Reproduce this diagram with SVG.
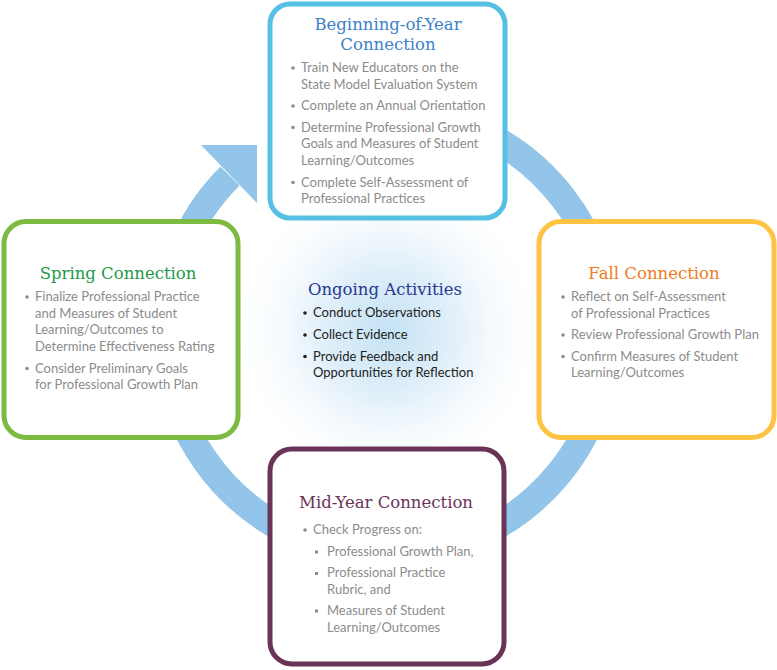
<svg xmlns="http://www.w3.org/2000/svg" width="777" height="670" viewBox="0 0 777 670">
<defs>
<radialGradient id="glow" cx="388" cy="330" r="160" gradientUnits="userSpaceOnUse">
<stop offset="0" stop-color="#c4e2f4"/>
<stop offset="0.45" stop-color="#e4f1fa"/>
<stop offset="1" stop-color="#ffffff" stop-opacity="0"/>
</radialGradient>
<style>
.box{fill:#ffffff;stroke-width:5}
.title{font-family:"DejaVu Serif","Liberation Serif",serif;font-size:16.5px;text-anchor:middle}
.body{font-family:Lato,"Liberation Sans",sans-serif;font-size:13px;fill:#8c8c8c}
.mid{font-family:Lato,"Liberation Sans",sans-serif;font-size:13px;fill:#222222}
.dot{fill:#8c8c8c}
.dotd{fill:#222222}
</style>
</defs>
<rect width="777" height="670" fill="#ffffff"/>
<circle cx="388" cy="330" r="160" fill="url(#glow)"/>
<g id="connectors">
<path d="M 387 111 A 222 222 0 1 1 230 176" fill="none" stroke="#92c5e9" stroke-width="27"/>
<polygon points="201,145 257,145 257,203" fill="#92c5e9"/>
</g>
<g id="center">
<text class="title" x="385" y="295" fill="#283891">Ongoing Activities</text>
<circle class="dotd" cx="305" cy="313" r="1.8"/>
<circle class="dotd" cx="305" cy="335" r="1.8"/>
<circle class="dotd" cx="305" cy="356.5" r="1.8"/>
<text class="mid" x="313" y="317.3">Conduct Observations</text>
<text class="mid" x="313" y="339">Collect Evidence</text>
<text class="mid" x="313" y="360.7">Provide Feedback and</text>
<text class="mid" x="313" y="377.3">Opportunities for Reflection</text>
</g>
<g id="beginning">
<rect class="box" x="270" y="4" width="235" height="214" rx="20" stroke="#55c0e3"/>
<text class="title" x="388" y="30" fill="#3b82c8">Beginning-of-Year</text>
<text class="title" x="388" y="50" fill="#3b82c8">Connection</text>
<circle class="dot" cx="293" cy="68" r="1.8"/>
<circle class="dot" cx="293" cy="106" r="1.8"/>
<circle class="dot" cx="293" cy="127.5" r="1.8"/>
<circle class="dot" cx="293" cy="182.5" r="1.8"/>
<text class="body" x="301" y="72.3">Train New Educators on the</text>
<text class="body" x="301" y="88.7">State Model Evaluation System</text>
<text class="body" x="301" y="110">Complete an Annual Orientation</text>
<text class="body" x="301" y="131.7">Determine Professional Growth</text>
<text class="body" x="301" y="148.3">Goals and Measures of Student</text>
<text class="body" x="301" y="165">Learning/Outcomes</text>
<text class="body" x="301" y="186.7">Complete Self-Assessment of</text>
<text class="body" x="301" y="203.3">Professional Practices</text>
</g>
<g id="spring">
<rect class="box" x="4" y="221.5" width="234" height="216" rx="22" stroke="#7cba42"/>
<text class="title" x="118" y="279" fill="#1e9a4a">Spring Connection</text>
<circle class="dot" cx="27" cy="297" r="1.8"/>
<circle class="dot" cx="27" cy="368.5" r="1.8"/>
<text class="body" x="35" y="301">Finalize Professional Practice</text>
<text class="body" x="35" y="317.7">and Measures of Student</text>
<text class="body" x="35" y="334.3">Learning/Outcomes to</text>
<text class="body" x="35" y="351">Determine Effectiveness Rating</text>
<text class="body" x="35" y="372.7">Consider Preliminary Goals</text>
<text class="body" x="35" y="389.3">for Professional Growth Plan</text>
</g>
<g id="fall">
<rect class="box" x="539" y="221.5" width="235" height="216" rx="22" stroke="#fec343"/>
<text class="title" x="654" y="279" fill="#f07b22">Fall Connection</text>
<circle class="dot" cx="563" cy="297" r="1.8"/>
<circle class="dot" cx="563" cy="335" r="1.8"/>
<circle class="dot" cx="563" cy="356.5" r="1.8"/>
<text class="body" x="571" y="301">Reflect on Self-Assessment</text>
<text class="body" x="571" y="317.7">of Professional Practices</text>
<text class="body" x="571" y="339">Review Professional Growth Plan</text>
<text class="body" x="571" y="360.7">Confirm Measures of Student</text>
<text class="body" x="571" y="377.3">Learning/Outcomes</text>
</g>
<g id="midyear">
<rect class="box" x="270" y="449" width="234" height="215" rx="22" stroke="#6a3459"/>
<text class="title" x="386" y="508.3" fill="#6a3459">Mid-Year Connection</text>
<circle class="dot" cx="305" cy="530" r="1.8"/>
<text class="body" x="313" y="534.3">Check Progress on:</text>
<rect class="dot" x="315" y="550.5" width="3" height="3"/>
<rect class="dot" x="315" y="572" width="3" height="3"/>
<rect class="dot" x="315" y="609.5" width="3" height="3"/>
<text class="body" x="327" y="556">Professional Growth Plan,</text>
<text class="body" x="327" y="577.3">Professional Practice</text>
<text class="body" x="327" y="594">Rubric, and</text>
<text class="body" x="327" y="615">Measures of Student</text>
<text class="body" x="327" y="631.7">Learning/Outcomes</text>
</g>
</svg>
